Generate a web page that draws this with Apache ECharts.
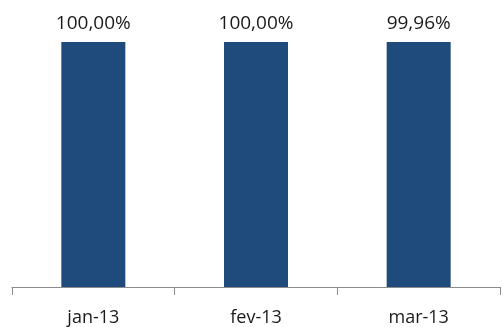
<!DOCTYPE html>
<html>
<head>
<meta charset="utf-8">
<script src="https://cdn.jsdelivr.net/npm/echarts@6/dist/echarts.min.js"></script>
<style>
  html, body { margin: 0; padding: 0; background: #fff; }
  #chart { width: 503px; height: 327px; }
</style>
</head>
<body>
<div id="chart"></div>
<script>
// Monthly availability rate
const months = ['jan-13', 'fev-13', 'mar-13'];
const availability = [100.00, 100.00, 99.96];

const fmt = v => v.toFixed(2).replace('.', ',') + '%';

const chart = echarts.init(document.getElementById('chart'), null, { renderer: 'canvas' });
chart.setOption({
  animation: false,
  textStyle: { fontFamily: 'Open Sans' },
  grid: { left: 12, right: 3, top: 42, bottom: 39, containLabel: false },
  xAxis: {
    type: 'category',
    data: months,
    boundaryGap: true,
    axisLine: { lineStyle: { color: '#8c8c8c', width: 1 } },
    axisTick: { show: true, length: 8, lineStyle: { color: '#8c8c8c' } },
    axisLabel: { color: '#1a1a1a', fontSize: 18, margin: 22, fontFamily: 'Open Sans' }
  },
  yAxis: {
    type: 'value',
    min: 0,
    max: 100,
    show: false
  },
  series: [{
    type: 'bar',
    data: availability,
    barWidth: 64,
    itemStyle: { color: '#1f4a7c' },
    label: {
      show: true,
      position: 'top',
      distance: 9,
      color: '#1a1a1a',
      fontSize: 19,
      fontFamily: 'Open Sans',
      formatter: p => fmt(p.value)
    }
  }]
});
</script>
</body>
</html>
